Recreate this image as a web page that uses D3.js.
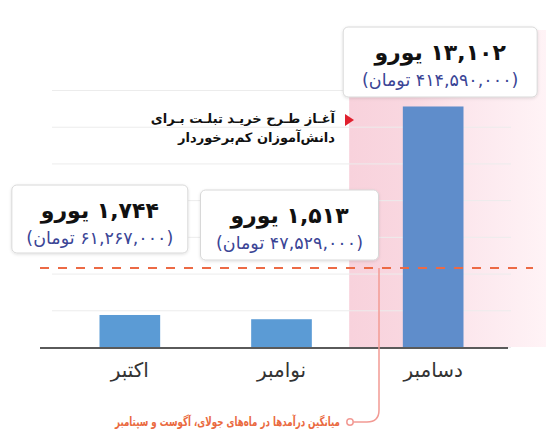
<!DOCTYPE html>
<html>
<head>
<meta charset="utf-8">
<script src="https://cdn.jsdelivr.net/npm/d3@7"></script>
<style>
    body { margin: 0; background: #fff; }
    svg { display: block; font-family: 'DejaVu Sans', sans-serif; }
</style>
</head>
<body>
<svg id="chart" width="546" height="438"></svg>
<script>
let months = ['اکتبر', 'نوامبر', 'دسامبر']
let euros = [1744, 1513, 13102]
let tomans = [61267000, 47529000, 414590000]
let avgEuro = 4300
let yTicks = [0, 2000, 4000, 6000, 8000, 10000, 12000, 14000]
let noteLines = ['آغـاز طـرح خریـد تبلـت بـرای', 'دانش‌آموزان کم‌برخوردار']
let avgLabel = 'میانگین درآمدها در ماه‌های جولای، آگوست و سپتامبر'

function main() {
    let svg = d3.select('#chart'),
        margin = {top: 90, bottom: 91, left: 54, right: 37},
        width = svg.attr('width') - margin.left - margin.right,
        height = svg.attr('height') - margin.top - margin.bottom

    let fa = s => s.replace(/[0-9]/g, c => '۰۱۲۳۴۵۶۷۸۹'[c])
    let fmt = d3.format(',')

    let x = d3.scaleBand().domain(months)
            .range([margin.left, margin.left + width])
            .paddingInner(0.6).paddingOuter(0.3),
        y = d3.scaleLinear().domain([0, 14000])
            .range([margin.top + height, margin.top])

    let defs = svg.append('defs')
    let grad = defs.append('linearGradient').attr('id', 'pink')
    grad.append('stop').attr('offset', '0%').attr('stop-color', '#f8d2dc')
    grad.append('stop').attr('offset', '30%').attr('stop-color', '#f9d7e0')
    grad.append('stop').attr('offset', '60%').attr('stop-color', '#fce7ed')
    grad.append('stop').attr('offset', '100%').attr('stop-color', '#fff3f6')

    let shadow = defs.append('filter').attr('id', 'shadow')
        .attr('x', '-10%').attr('y', '-10%').attr('width', '120%').attr('height', '130%')
    shadow.append('feDropShadow').attr('dx', 0).attr('dy', 1).attr('stdDeviation', 1.5)
        .attr('flood-color', '#000').attr('flood-opacity', 0.12)

    // highlighted december band
    let decX = x('دسامبر') + x.bandwidth() / 2
    svg.append('rect')
        .attr('x', decX - 84).attr('y', 30)
        .attr('width', 546 - (decX - 84)).attr('height', y(0) - 30)
        .attr('fill', 'url(#pink)')

    // gridlines
    svg.append('g')
        .attr('transform', 'translate(' + (margin.left - 2) + ',0)')
        .call(d3.axisLeft(y).tickValues(yTicks).tickSize(-(width + 4)).tickFormat(''))
        .call(g => g.select('.domain').remove())
        .call(g => g.selectAll('line').attr('stroke', '#ececec').attr('stroke-width', 1))

    svg.selectAll('.bar')
        .data(months)
        .enter()
        .append('rect')
        .attr('class', 'bar')
        .attr('x', d => x(d))
        .attr('y', (d, i) => y(euros[i]))
        .attr('width', x.bandwidth())
        .attr('height', (d, i) => y(0) - y(euros[i]))
        .attr('fill', (d, i) => i === 2 ? '#5f8dcb' : '#5b9bd5')

    // baseline + month labels
    svg.append('line')
        .attr('x1', 40).attr('x2', 508)
        .attr('y1', y(0) + 1).attr('y2', y(0) + 1)
        .attr('stroke', '#5a5a5a').attr('stroke-width', 2)

    svg.append('g')
        .attr('transform', 'translate(0,' + y(0) + ')')
        .call(d3.axisBottom(x).tickSize(0).tickPadding(16))
        .call(g => g.select('.domain').remove())
        .call(g => g.selectAll('text')
            .attr('font-family', "'DejaVu Sans', sans-serif")
            .attr('font-size', 20).attr('fill', '#333'))

    // average line
    svg.append('line')
        .attr('x1', 40).attr('x2', 533)
        .attr('y1', y(avgEuro)).attr('y2', y(avgEuro))
        .attr('stroke', '#ec6a45').attr('stroke-width', 2)
        .attr('stroke-dasharray', '9,9')

    let cx = 379, cy = 422
    svg.append('path')
        .attr('d', 'M' + cx + ',' + y(avgEuro) + 'V' + (cy - 12)
            + 'Q' + cx + ',' + cy + ' ' + (cx - 12) + ',' + cy + 'H' + 353)
        .attr('fill', 'none').attr('stroke', '#f29a94').attr('stroke-width', 1.5)
    svg.append('circle')
        .attr('cx', 350).attr('cy', cy).attr('r', 3.2)
        .attr('fill', '#fff').attr('stroke', '#f29a94').attr('stroke-width', 1.5)
    svg.append('text')
        .attr('x', 340).attr('y', cy + 4)
        .attr('direction', 'rtl').attr('text-anchor', 'start')
        .attr('font-size', 12.5).attr('font-weight', 'bold').attr('fill', '#ea6a3f')
        .attr('textLength', 225).attr('lengthAdjust', 'spacingAndGlyphs')
        .text(avgLabel)

    // note with red marker
    svg.append('path')
        .attr('d', 'M345,114L354,120L345,126Z')
        .attr('fill', '#e0202e')
    svg.selectAll('.note')
        .data(noteLines)
        .enter()
        .append('text')
        .attr('class', 'note')
        .attr('x', 335).attr('y', (d, i) => 123 + i * 19)
        .attr('direction', 'rtl').attr('text-anchor', 'start')
        .attr('font-size', 13).attr('font-weight', 'bold').attr('fill', '#111')
        .text(d => d)

    // value boxes
    let boxes = [
        {dx: -30, top: 185, w: 176, h: 68},
        {dx: 8, top: 190, w: 178, h: 70},
        {dx: 7, top: 27, w: 194, h: 70}
    ]
    months.forEach((m, i) => {
        let b = boxes[i],
            c = x(m) + x.bandwidth() / 2 + b.dx
        let g = svg.append('g')
        g.append('rect')
            .attr('x', c - b.w / 2).attr('y', b.top)
            .attr('width', b.w).attr('height', b.h)
            .attr('rx', 5)
            .attr('fill', '#fff').attr('stroke', '#d8d8d8')
            .attr('filter', 'url(#shadow)')
        g.append('text')
            .attr('x', c).attr('y', b.top + 33)
            .attr('direction', 'rtl').attr('text-anchor', 'middle')
            .attr('font-size', 22).attr('font-weight', 'bold').attr('fill', '#111')
            .text(fa(fmt(euros[i])) + ' یورو')
        g.append('text')
            .attr('x', c).attr('y', b.top + 59)
            .attr('direction', 'rtl').attr('text-anchor', 'middle')
            .attr('font-size', 17.5).attr('fill', '#3b4596')
            .text('(' + fa(fmt(tomans[i])) + ' تومان)')
    })
}

main()
</script>
</body>
</html>
